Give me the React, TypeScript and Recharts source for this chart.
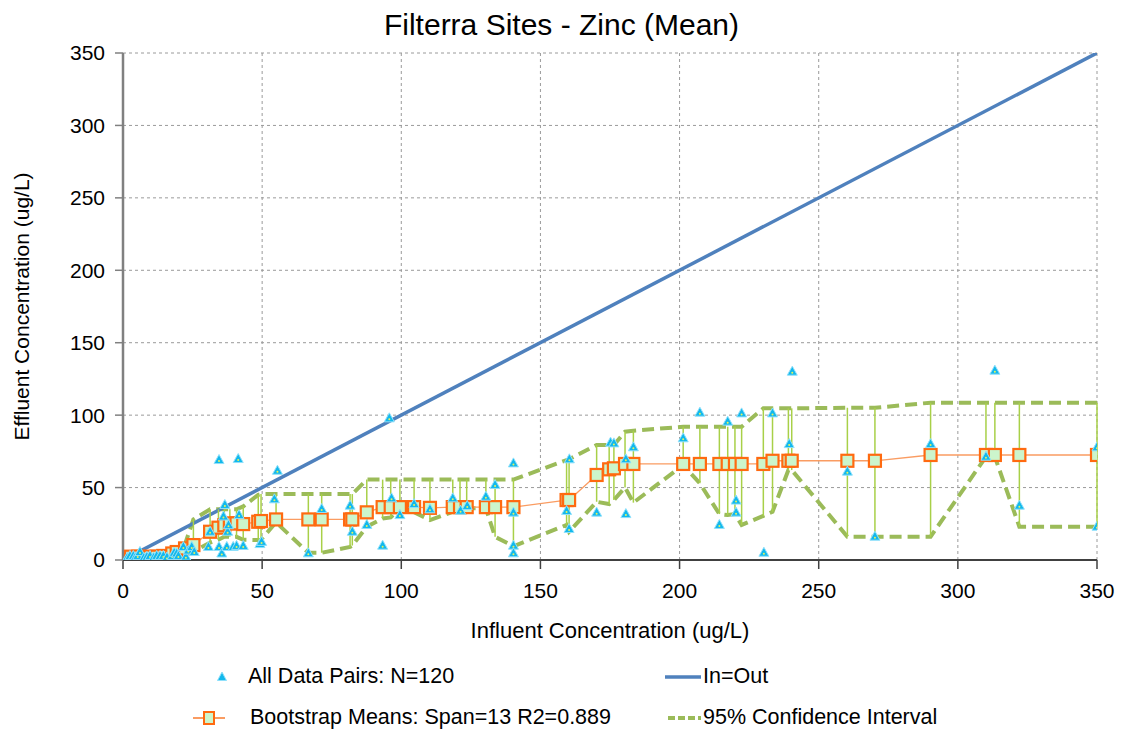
import React from "react";
import {
  ComposedChart,
  Line,
  Scatter,
  XAxis,
  YAxis,
  CartesianGrid,
  ErrorBar,
} from "recharts";

// bootstrap means (x, mean, lower/upper 95% CI)
const bootX = [
  2.9, 5.5, 9.7, 12.1, 14.5, 17.7, 19.3, 22.3, 25.3, 31.3, 34.3, 36.4, 38.4,
  40.8, 43.2, 48.6, 49.6, 55, 66.6, 71.4, 81.6, 82.4, 87.6, 93.3, 96.2, 99.5,
  104.6, 110.3, 118.5, 121.1, 123.5, 130.4, 133.7, 140.3, 159.4, 160.3, 170.2,
  174.7, 176.4, 180.4, 183.4, 201.3, 207.3, 214.3, 217.3, 219.9, 222.3, 230.1,
  233.4, 239.1, 240.3, 260.3, 270.2, 290.2, 310.1, 313.3, 322.1, 350,
];
const bootMean = [
  2.3, 2.3, 2.3, 2.3, 2.8, 4.5, 5.5, 8, 10.3, 19.5, 22.3, 24, 25.3, 25.3, 24.8,
  26.4, 26.9, 28, 28, 28, 28, 28, 32.9, 36.5, 36.5, 36.5, 36.5, 36, 36.5, 36.5,
  36.5, 36.5, 36.5, 36.5, 41.4, 41.4, 58.7, 62.6, 63.3, 66.3, 66.3, 66.3, 66.3,
  66.3, 66.3, 66.3, 66.3, 66.3, 68.5, 68.5, 68.5, 68.5, 68.5, 72.5, 72.5, 72.5,
  72.5, 72.5,
];
const bootLow = [
  1.5, 1.5, 1.5, 1.5, 2, 2.5, 3, 4, 6, 12, 14, 16, 16, 16, 14, 13.8, 14, 26, 5,
  5, 9, 10, 23, 28.7, 29.4, 36, 33, 27.6, 33.3, 34.5, 35.7, 35.7, 16, 9.5, 24.2,
  19.5, 40.2, 38.6, 41.4, 50.1, 39.6, 65.6, 52.9, 31.7, 31, 31.7, 24.2, 30.4,
  33.3, 62.1, 62.1, 16.1, 16.1, 16.1, 71.3, 71.3, 23, 23,
];
const bootHigh = [
  3.5, 3.5, 3.5, 3.5, 4, 6, 8, 11, 28, 35, 35, 35, 35, 35, 37, 45, 45.5, 45.5,
  45.5, 45.5, 45.5, 45.5, 55.5, 55.5, 55.5, 55.5, 55.5, 55.5, 55.5, 55.5, 55.5,
  55.5, 55.5, 55.5, 69, 69.5, 79.4, 79.4, 79.4, 88.6, 89.2, 92, 92, 92, 92, 92,
  92, 104.7, 104.7, 104.7, 104.7, 105.1, 105.1, 108.6, 108.6, 108.6, 108.6,
  108.6,
];

// all data pairs (influent, effluent)
const pairX = [
  1.5, 2.5, 3.7, 4.4, 5.3, 6.1, 7.5, 8.6, 9.7, 11, 12.1, 13.3, 14.5, 15.8, 17.7,
  18.4, 19.3, 19.9, 21.7, 22.6, 23.5, 24.7, 25.6, 30.7, 31.3, 34.5, 34.5, 35.5,
  36.1, 36.6, 37.3, 37.6, 37.9, 39.6, 40.8, 41.4, 41.7, 43.2, 49.2, 49.8, 54.4,
  55.5, 66.6, 71.4, 81.6, 82.4, 87.6, 93.3, 95.7, 96.5, 99.5, 104.6, 110.3,
  118.5, 121.3, 123.7, 130.4, 133.7, 140.3, 140.3, 140.3, 140.3, 159.4, 160.4,
  160.3, 170.2, 175.2, 176.4, 180.7, 180.7, 183.4, 201.3, 207.3, 214.3, 217.3,
  220.3, 220.3, 222.3, 230.3, 233.4, 239.4, 240.5, 260.3, 270.2, 290.2, 310.1,
  313.3, 322.1, 350, 350,
];
const pairY = [
  1.5, 2.8, 2.8, 1.8, 2.8, 5.5, 1.5, 2.2, 2.8, 1.6, 2.8, 2.8, 2.8, 1.8, 2.8, 5,
  4.5, 2.8, 9, 2.3, 6.5, 9, 5.5, 9, 19.5, 69, 9, 4.5, 30, 38, 9, 19.5, 24, 9,
  9.7, 69.7, 31, 9.7, 11, 12.5, 41.9, 61.6, 4.6, 35.2, 37.5, 19.5, 24.2, 9.9,
  97.8, 42.6, 31, 38.6, 35, 42.6, 34, 37.3, 43.7, 51.8, 66.7, 32.7, 9.9, 4.6,
  33.8, 69.5, 21.4, 32.7, 81, 80.5, 69.5, 31.7, 77.8, 84, 101.7, 24.2, 95.5, 41,
  32.7, 101.2, 5, 101.2, 80, 130, 61, 16.1, 80, 71.3, 130.7, 37.5, 77.8, 23,
];

const ticks = [0, 50, 100, 150, 200, 250, 300, 350];

const bootData = bootX.map((x, i) => ({
  x,
  y: bootMean[i],
  lo: bootLow[i],
  hi: bootHigh[i],
  err: [bootMean[i] - bootLow[i], bootHigh[i] - bootMean[i]],
}));
const pairData = pairX.map((x, i) => ({ x, y: pairY[i] }));
const identity = [
  { x: 0, y: 0 },
  { x: 350, y: 350 },
];

const FONT = "'Liberation Sans', Arial, sans-serif";
const tickStyle = { fontSize: 21, fill: "#000", fontFamily: FONT };

const Triangle = (props: any) => {
  const { cx, cy } = props;
  if (cx == null || cy == null) return null;
  return (
    <g>
      <path
        d={`M${cx},${cy - 5.5} L${cx + 5},${cy + 3.5} L${cx - 5},${cy + 3.5} Z`}
        fill="#12b8ec"
        stroke="#8fe0fb"
        strokeWidth={1}
      />
      <circle cx={cx} cy={cy + 1} r={1} fill="#e8f55a" />
    </g>
  );
};

const SquareDot = (props: any) => {
  const { cx, cy, index } = props;
  if (cx == null || cy == null) return null;
  return (
    <rect
      key={`sq-${index}`}
      x={cx - 6}
      y={cy - 6}
      width={12}
      height={12}
      fill="#ccf5cc"
      stroke="#ff6a10"
      strokeWidth={2.2}
    />
  );
};

const LegendItem = ({
  icon,
  label,
  left,
  top,
}: {
  icon: React.ReactNode;
  label: string;
  left: number;
  top: number;
}) => (
  <div
    style={{
      position: "absolute",
      left,
      top,
      display: "flex",
      alignItems: "center",
      fontFamily: FONT,
      fontSize: 21.5,
      color: "#000",
      whiteSpace: "nowrap",
    }}
  >
    {icon}
    <span>{label}</span>
  </div>
);

export default function App() {
  return (
    <div
      style={{
        position: "absolute",
        left: 0,
        top: 0,
        width: 1123,
        height: 731,
        background: "#fff",
      }}
    >
      <div
        style={{
          position: "absolute",
          left: 0,
          width: 1123,
          top: 8,
          textAlign: "center",
          fontFamily: FONT,
          fontSize: 30,
          color: "#000",
        }}
      >
        Filterra Sites - Zinc (Mean)
      </div>
      <ComposedChart
        width={1123}
        height={660}
        margin={{ top: 53, right: 26, bottom: 0, left: 0 }}
      >
        <CartesianGrid stroke="#9a9a9a" strokeDasharray="3 3" />
        <XAxis
          type="number"
          dataKey="x"
          domain={[0, 350]}
          ticks={ticks}
          allowDataOverflow
          height={100}
          tick={tickStyle}
          tickSize={9}
          tickMargin={14}
          tickLine={{ stroke: "#404040", strokeWidth: 1.5 }}
          axisLine={{ stroke: "#404040", strokeWidth: 2 }}
          label={{
            value: "Influent Concentration (ug/L)",
            position: "insideBottom",
            offset: 22,
            style: { fontSize: 22, fill: "#000", fontFamily: FONT },
          }}
        />
        <YAxis
          type="number"
          dataKey="y"
          domain={[0, 350]}
          ticks={ticks}
          allowDataOverflow
          width={123}
          tick={tickStyle}
          tickSize={8}
          tickMargin={10}
          tickLine={{ stroke: "#808080", strokeWidth: 1.5 }}
          axisLine={{ stroke: "#808080", strokeWidth: 2.5 }}
          label={{
            value: "Effluent Concentration (ug/L)",
            angle: -90,
            position: "insideLeft",
            offset: 22,
            style: {
              fontSize: 21,
              fill: "#000",
              fontFamily: FONT,
              textAnchor: "middle",
            },
          }}
        />
        <Line
          data={bootData}
          dataKey="hi"
          type="linear"
          stroke="#9bbb59"
          strokeWidth={4}
          strokeDasharray="12 6"
          dot={false}
          activeDot={false}
          isAnimationActive={false}
        />
        <Line
          data={bootData}
          dataKey="lo"
          type="linear"
          stroke="#9bbb59"
          strokeWidth={4}
          strokeDasharray="12 6"
          dot={false}
          activeDot={false}
          isAnimationActive={false}
        />
        <Line
          data={identity}
          dataKey="y"
          type="linear"
          stroke="#4f81bd"
          strokeWidth={3.5}
          dot={false}
          activeDot={false}
          isAnimationActive={false}
        />
        <Line
          data={bootData}
          dataKey="y"
          type="linear"
          stroke="#fa9c62"
          strokeWidth={1.3}
          dot={<SquareDot />}
          activeDot={false}
          isAnimationActive={false}
        >
          <ErrorBar
            dataKey="err"
            direction="y"
            width={0}
            stroke="#a8d048"
            strokeWidth={1.5}
          />
        </Line>
        <Scatter
          data={pairData}
          shape={<Triangle />}
          isAnimationActive={false}
        />
      </ComposedChart>

      <LegendItem
        left={214}
        top={664}
        label="All Data Pairs: N=120"
        icon={
          <svg width={34} height={20}>
            <path d="M8,5 L12.5,13.5 L3.5,13.5 Z" fill="#12b8ec" stroke="#8fe0fb" />
          </svg>
        }
      />
      <LegendItem
        left={665}
        top={664}
        label="In=Out"
        icon={
          <svg width={38} height={20}>
            <line x1={0} y1={10} x2={36} y2={10} stroke="#4f81bd" strokeWidth={3.5} />
          </svg>
        }
      />
      <LegendItem
        left={193}
        top={705}
        label="Bootstrap Means: Span=13 R2=0.889"
        icon={
          <svg width={57} height={20}>
            <line x1={0} y1={10} x2={32} y2={10} stroke="#fa9c62" strokeWidth={2} />
            <rect x={11} y={4} width={10} height={12} fill="#ccf5cc" stroke="#ff6a10" strokeWidth={2} />
          </svg>
        }
      />
      <LegendItem
        left={668}
        top={705}
        label="95% Confidence Interval"
        icon={
          <svg width={35} height={20}>
            <line x1={0} y1={10} x2={33} y2={10} stroke="#9bbb59" strokeWidth={4} strokeDasharray="7 3" />
          </svg>
        }
      />
    </div>
  );
}
